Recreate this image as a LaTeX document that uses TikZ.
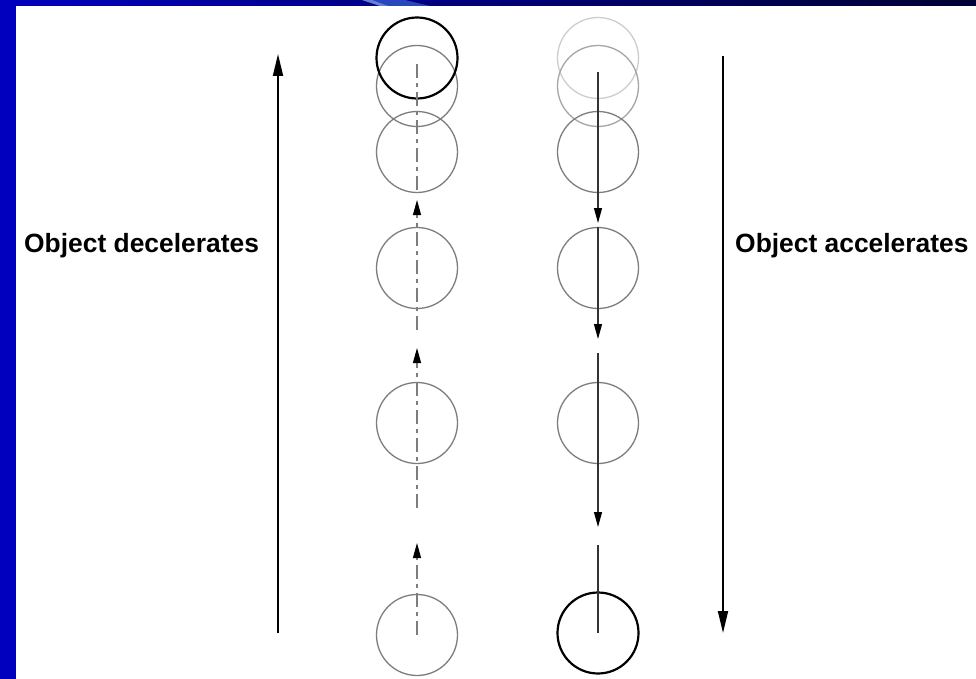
\documentclass[tikz,border=0pt]{standalone}
\usepackage{fontspec}
\setmainfont{Liberation Sans}
\usetikzlibrary{arrows.meta}
\definecolor{frameblue}{RGB}{0,0,190}
\definecolor{navy}{RGB}{0,0,50}
\definecolor{swoosh}{RGB}{40,70,190}
\definecolor{ballgray}{RGB}{125,125,125}
\definecolor{faintgray}{RGB}{165,165,165}
\definecolor{palegray}{RGB}{205,205,205}
\tikzset{
  ball/.style={circle, draw=ballgray, line width=1.3pt, minimum size=81pt, inner sep=0pt},
  boldball/.style={ball, draw=black, line width=2.2pt},
  upline/.style={draw=ballgray, line width=1.1pt, dash pattern=on 14pt off 5pt on 4pt off 5pt,
     -{Triangle[length=15pt,width=8pt,color=black,fill=black]}},
  upplain/.style={draw=ballgray, line width=1.1pt, dash pattern=on 14pt off 5pt on 4pt off 5pt},
  downline/.style={draw=black!80, line width=1.1pt,
     -{Triangle[length=15pt,width=8pt,color=black,fill=black]}},
  downplain/.style={draw=black!80, line width=1.1pt},
  sidearrow/.style={draw=black, line width=1.8pt, -{Triangle[length=22pt,width=10pt]}},
  label/.style={font=\fontsize{26.4}{30}\selectfont\bfseries, inner sep=0pt, anchor=base west}
}
\begin{document}
\begin{tikzpicture}[x=1pt,y=-1pt]
\useasboundingbox (0,0) rectangle (976,679);
\fill[white] (0,0) rectangle (976,679);
% frame
\fill[frameblue] (0,0) rectangle (16,679);
\shade[left color=frameblue, right color=navy] (0,0) rectangle (976,6);
\fill[swoosh] (362,0) -- (405,0) -- (430,6) -- (380,6) -- cycle;
\fill[swoosh!70!white] (362,0) -- (372,0) -- (388,6) -- (380,6) -- cycle;

% left column (decelerating upward)
\node[ball] (l2) at (417,86) {};
\node[ball] (l3) at (417,152) {};
\node[ball] (l4) at (417,268) {};
\node[ball] (l5) at (417,423) {};
\node[ball] (l6) at (417,635) {};
\node[boldball] (l1) at (417,58) {};

% right column (accelerating downward)
\node[ball, draw=palegray] (r1) at (598,58) {};
\node[ball, draw=faintgray] (r2) at (598,86) {};
\node[ball] (r3) at (598,152) {};
\node[ball] (r4) at (598,268) {};
\node[ball] (r5) at (598,423) {};
\node[boldball] (r6) at (598,633) {};

% left column motion arrows
\coordinate (la1) at (417,543);
\coordinate (lb0) at (417,508);
\coordinate (lb1) at (417,348);
\coordinate (lc0) at (417,330);
\coordinate (lc1) at (417,200);
\coordinate (ld0) at (417,190);
\coordinate (ld1) at (417,64);
\draw[upline] (l6.center) -- (la1);
\draw[upline] (lb0) -- (lb1);
\draw[upline] (lc0) -- (lc1);
\draw[upplain] (ld0) -- (ld1);

% right column motion arrows
\coordinate (ra0) at (598,72);
\coordinate (ra1) at (598,223);
\coordinate (rb0) at (598,227);
\coordinate (rb1) at (598,339);
\coordinate (rc0) at (598,353);
\coordinate (rc1) at (598,527);
\coordinate (rd0) at (598,545);
\draw[downline] (ra0) -- (ra1);
\draw[downline] (rb0) -- (rb1);
\draw[downline] (rc0) -- (rc1);
\draw[downplain] (rd0) -- (r6.center);

% side arrows
\coordinate (sl0) at (278,633);
\coordinate (sl1) at (278,54);
\coordinate (sr0) at (723,56);
\coordinate (sr1) at (723,633);
\draw[sidearrow] (sl0) -- (sl1);
\draw[sidearrow] (sr0) -- (sr1);

% labels
\node[label] (tdec) at (24,252) {Object decelerates};
\node[label] (tacc) at (735,252) {Object accelerates};
\end{tikzpicture}
\end{document}
